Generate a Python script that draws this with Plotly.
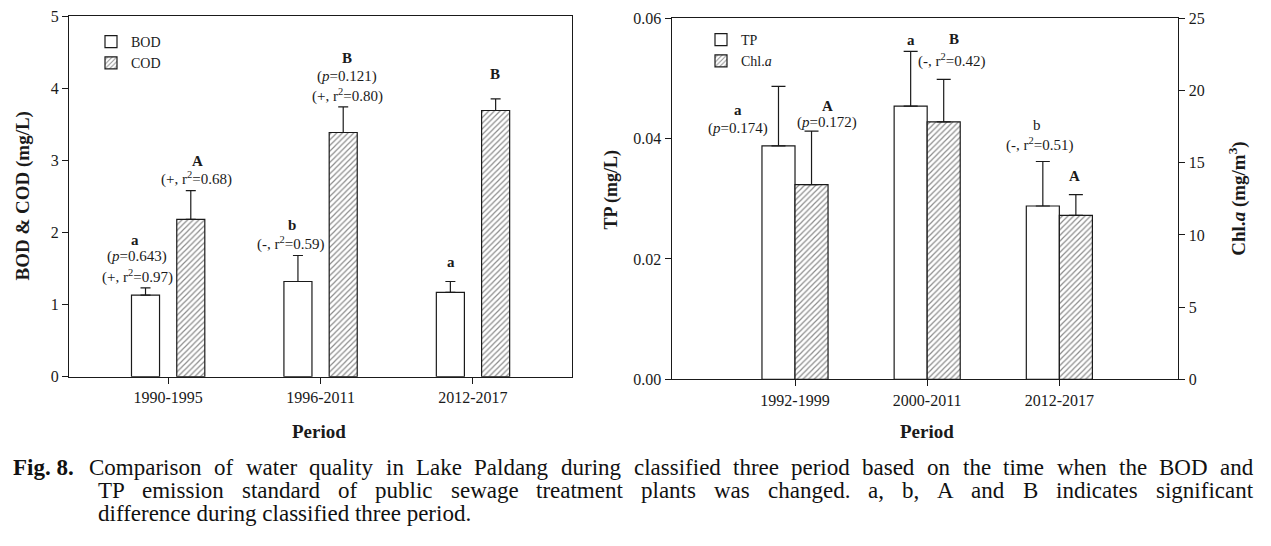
import plotly.graph_objects as go

# ---------------- data ----------------
periods_left = ["1990-1995", "1996-2011", "2012-2017"]
bod = [1.13, 1.32, 1.17]
bod_err = [0.10, 0.36, 0.15]
cod = [2.18, 3.385, 3.69]
cod_err = [0.40, 0.355, 0.16]

periods_right = ["1992-1999", "2000-2011", "2012-2017"]
tp = [0.0388, 0.0454, 0.0288]
tp_err = [0.0099, 0.0091, 0.0074]
chl = [13.48, 17.83, 11.35]
chl_err = [3.70, 2.94, 1.44]

left_yticks = [0, 1, 2, 3, 4, 5]
tp_ticks = [0.00, 0.02, 0.04, 0.06]
chl_ticks = [0, 5, 10, 15, 20, 25]

# significance / trend labels (first entry = letter, then stat lines)
bod_labels = [["<b>a</b>", "(<i>p</i>=0.643)", "(+, r<sup>2</sup>=0.97)"],
              ["<b>b</b>", "(-, r<sup>2</sup>=0.59)"],
              ["<b>a</b>"]]
cod_labels = [["<b>A</b>", "(+, r<sup>2</sup>=0.68)"],
              ["<b>B</b>", "(<i>p</i>=0.121)", "(+, r<sup>2</sup>=0.80)"],
              ["<b>B</b>"]]
tp_labels = [["<b>a</b>", "(<i>p</i>=0.174)"],
             ["<b>a</b>"],
             ["b", "(-, r<sup>2</sup>=0.51)"]]
chl_labels = [["<b>A</b>", "(<i>p</i>=0.172)"],
              ["<b>B</b>", "(-, r<sup>2</sup>=0.42)"],
              ["<b>A</b>"]]

caption_lines = [
    "Comparison of water quality in Lake Paldang during classified three period based on the time when the BOD and",
    "TP emission standard of public sewage treatment plants was changed. a, b, A and B indicates significant",
    "difference during classified three period.",
]

# ---------------- layout helpers (pixel -> paper) ----------------
W, H = 1271, 546
def px(x):
    return x / W
def py(y):
    return 1 - y / H

FONT = "'Times New Roman', 'Liberation Serif', Times, serif"
INK = "#1a1a1a"

# pixel offsets of label lines relative to error-bar caps (style only)
bod_pos = [[(-33, 47.7), (-31, 31), (-31, 11.7)], [(-28.3, 30.7), (-30, 11.7)], [(-22, 19.6)]]
cod_pos = [[(29, 29.7), (28, 11.7)], [(26.7, 49.4), (26.7, 30), (26.7, 11.7)], [(22, 24.7)]]
tp_pos = [[(-57.5, -24), (-57.5, -42.3)], [(-16.3, 11.7)], [(-22, 36.3), (-20.3, 17.3)]]
chl_pos = [[(32.3, 25.7), (32.3, 9)], [(27, 40), (24.2, 19.3)], [(15, 18.3)]]

fig = go.Figure()

err_style = dict(type="data", symmetric=False, color=INK, thickness=1.2)
plain = dict(color="white", line=dict(color=INK, width=1.2))
hatch = dict(color="white", line=dict(color=INK, width=1.2),
             pattern=dict(shape="/", fgcolor=INK, bgcolor="white", size=4, solidity=0.3))

fig.add_trace(go.Bar(x=periods_left, y=bod, width=0.184, offset=-0.24, marker=plain,
                     error_y=dict(array=bod_err, arrayminus=[0] * len(bod), width=5, **err_style),
                     name="BOD", xaxis="x", yaxis="y", legend="legend"))
fig.add_trace(go.Bar(x=periods_left, y=cod, width=0.184, offset=0.057, marker=hatch,
                     error_y=dict(array=cod_err, arrayminus=[0] * len(cod), width=5, **err_style),
                     name="COD", xaxis="x", yaxis="y", legend="legend"))
fig.add_trace(go.Bar(x=periods_right, y=tp, width=0.25, offset=-0.25, marker=plain,
                     error_y=dict(array=tp_err, arrayminus=[0] * len(tp), width=7, **err_style),
                     name="TP", xaxis="x2", yaxis="y2", legend="legend2"))
fig.add_trace(go.Bar(x=periods_right, y=chl, width=0.25, offset=0.0, marker=hatch,
                     error_y=dict(array=chl_err, arrayminus=[0] * len(chl), width=7, **err_style),
                     name="Chl.<i>a</i>", xaxis="x2", yaxis="y3", legend="legend2"))

axis_common = dict(showline=True, linecolor=INK, linewidth=1.3, ticks="outside",
                   ticklen=6, tickwidth=1.2, tickcolor=INK, showgrid=False, zeroline=False,
                   automargin=False,
                   tickfont=dict(family=FONT, size=16, color=INK))

fig.update_layout(
    width=W, height=H, margin=dict(l=0, r=0, t=0, b=0, pad=0, autoexpand=False),
    paper_bgcolor="white", plot_bgcolor="white",
    barmode="overlay", font=dict(family=FONT, color=INK),
    xaxis=dict(domain=[px(69), px(572)], anchor="y", type="category",
               range=[-0.65, 2.65], mirror=True, **axis_common),
    yaxis=dict(domain=[py(376.7), py(16)], anchor="x", range=[0, 5],
               tickvals=left_yticks, mirror=True, **axis_common),
    xaxis2=dict(domain=[px(671.7), px(1178.3)], anchor="y2", type="category",
                range=[-0.933, 2.90], mirror=True, **axis_common),
    yaxis2=dict(domain=[py(379.3), py(18.3)], anchor="x2", range=[0, 0.06],
                tickvals=tp_ticks, tickformat=".2f", **axis_common),
    yaxis3=dict(overlaying="y2", anchor="x2", side="right", range=[0, 25],
                tickvals=chl_ticks, **axis_common),
    legend=dict(x=px(91), y=py(26), xanchor="left", yanchor="top",
                bgcolor="rgba(0,0,0,0)", font=dict(family=FONT, size=14, color=INK),
                tracegroupgap=0, traceorder="normal"),
    legend2=dict(x=px(701), y=py(24), xanchor="left", yanchor="top",
                 bgcolor="rgba(0,0,0,0)", font=dict(family=FONT, size=14, color=INK),
                 tracegroupgap=0, traceorder="normal"),
    showlegend=True,
)

annotations = []

def add_labels(cats, vals, errs, labels, positions, xref, yref):
    for cat, v, e, labs, poss in zip(cats, vals, errs, labels, positions):
        for text, (dx, dy) in zip(labs, poss):
            annotations.append(dict(x=cat, y=v + e, xref=xref, yref=yref, text=text,
                                    xshift=dx, yshift=dy, showarrow=False,
                                    xanchor="center", yanchor="middle",
                                    font=dict(family=FONT, size=15, color=INK)))

add_labels(periods_left, bod, bod_err, bod_labels, bod_pos, "x", "y")
add_labels(periods_left, cod, cod_err, cod_labels, cod_pos, "x", "y")
add_labels(periods_right, tp, tp_err, tp_labels, tp_pos, "x2", "y2")
add_labels(periods_right, chl, chl_err, chl_labels, chl_pos, "x2", "y3")

# axis titles
def title(text, x, y, angle=0, size=19):
    annotations.append(dict(x=px(x), y=py(y), xref="paper", yref="paper", text=text,
                            textangle=angle, showarrow=False, xanchor="center", yanchor="middle",
                            font=dict(family=FONT, size=size, color=INK)))

title("<b>BOD &amp; COD (mg/L)</b>", 22, 196.5, -90)
title("<b>Period</b>", 319, 431.7, 0, 19)
title("<b>Period</b>", 926.7, 431.7, 0, 19)
title("<b>TP (mg/L)</b>", 610.5, 190, -90, 18)
title("<b>Chl.<i>a</i> (mg/m<sup>3</sup>)</b>", 1236.7, 199, -90)

# ---------------- caption with justified lines ----------------
TIMES = {' ': 250, 'a': 444, 'b': 500, 'c': 444, 'd': 500, 'e': 444, 'f': 333, 'g': 500,
         'h': 500, 'i': 278, 'j': 278, 'k': 500, 'l': 278, 'm': 778, 'n': 500, 'o': 500,
         'p': 500, 'q': 500, 'r': 333, 's': 389, 't': 278, 'u': 500, 'v': 500, 'w': 722,
         'x': 500, 'y': 500, 'z': 444, 'A': 722, 'B': 667, 'C': 667, 'D': 722, 'E': 611,
         'F': 556, 'G': 722, 'H': 722, 'I': 333, 'J': 389, 'K': 722, 'L': 611, 'M': 889,
         'N': 722, 'O': 722, 'P': 556, 'Q': 722, 'R': 667, 'S': 556, 'T': 611, 'U': 722,
         'V': 722, 'W': 944, 'X': 722, 'Y': 722, 'Z': 611, '.': 250, ',': 250, '-': 333,
         '(': 333, ')': 333}
CAP = 23

def wpx(word):
    return sum(TIMES.get(ch, 500) for ch in word) * CAP / 1000.0

def cap_text(text, x, y, bold=False):
    t = "<b>%s</b>" % text if bold else text
    annotations.append(dict(x=px(x), y=py(y), xref="paper", yref="paper", text=t,
                            showarrow=False, xanchor="left", yanchor="middle",
                            font=dict(family=FONT, size=CAP, color="#111111")))

def justify(line, x0, x1, y):
    words = line.split(" ")
    widths = [wpx(w) for w in words]
    gap = (x1 - x0 - sum(widths)) / (len(words) - 1)
    x = x0
    for w, wd in zip(words, widths):
        cap_text(w, x, y)
        x += wd + gap

cap_text("Fig. 8.", 10.5, 467, bold=True)
justify(caption_lines[0], 87.3, 1251.7, 467)
justify(caption_lines[1], 95.7, 1250.7, 490)
cap_text(caption_lines[2], 95.7, 513)

fig.update_layout(annotations=annotations)
fig.write_html("out.html", config={"displayModeBar": False},
               post_script="document.body.style.margin='0';document.body.style.overflow='hidden';")
